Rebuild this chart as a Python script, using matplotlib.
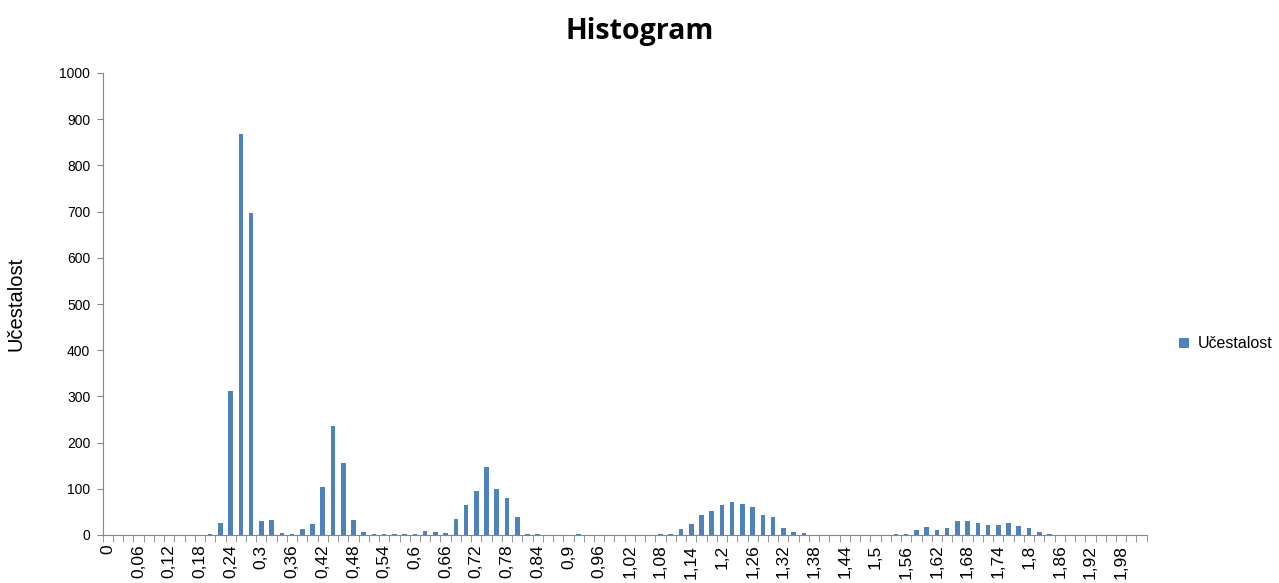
import numpy as np
import matplotlib
matplotlib.use("Agg")
import matplotlib.pyplot as plt

# bins 0 .. 2.02 step 0.02, counts
bins = [round(0.02 * i, 2) for i in range(102)]
counts = [
    0, 0, 0, 0, 0, 0, 0, 0, 0, 0,          # 0 - 0.18
    2, 27, 312, 868, 697, 30, 32, 4, 3, 12,  # 0.20 - 0.38
    24, 104, 235, 155, 33, 7, 2, 2, 3, 2,    # 0.40 - 0.58
    2, 9, 7, 5, 35, 64, 95, 147, 100, 80,    # 0.60 - 0.78
    38, 3, 2, 0, 0, 0, 2, 0, 0, 0,           # 0.80 - 0.98
    1, 0, 0, 1, 2, 2, 14, 24, 43, 51,        # 1.00 - 1.18
    66, 72, 68, 60, 44, 38, 15, 7, 5, 0,     # 1.20 - 1.38
    0, 0, 0, 0, 0, 0, 1, 2, 3, 11,           # 1.40 - 1.58
    17, 11, 15, 30, 30, 25, 22, 22, 27, 19,  # 1.60 - 1.78
    15, 7, 2, 0, 0, 0, 0, 0, 0, 0,           # 1.80 - 1.98
    0, 0,                                    # 2.00 - 2.02
]
series_name = "Učestalost"
title = "Histogram"


def fmt(v):
    return ("%g" % v).replace(".", ",")


plt.rcParams["font.family"] = ["Liberation Sans", "DejaVu Sans"]

fig = plt.figure(figsize=(12.79, 5.83), dpi=100)
ax = fig.add_axes([102.7 / 1279, 1 - 535 / 583, (1146.7 - 102.7) / 1279, (535 - 73) / 583])

x = np.arange(len(bins))
ax.bar(x, counts, width=0.45, color="#4F81BD", label=series_name)

ax.set_xlim(-0.5, len(bins) - 0.5)
ax.set_ylim(0, 1000)
ax.set_yticks(range(0, 1001, 100))
ax.tick_params(axis="y", labelsize=10, length=4, color="#868686", pad=5)

ax.set_xticks(x[::3])
ax.set_xticklabels([fmt(b) for b in bins[::3]], rotation=90, fontsize=12.5)
ax.set_xticks(np.arange(-0.5, len(bins)), minor=True)
ax.tick_params(axis="x", which="major", length=0, pad=7)
ax.tick_params(axis="x", which="minor", length=5, color="#868686")

for s in ["top", "right"]:
    ax.spines[s].set_visible(False)
for s in ["left", "bottom"]:
    ax.spines[s].set_color("#868686")

ax.set_ylabel(series_name, fontsize=14.5, labelpad=24)
fig.text(0.5, 1 - 31 / 583, title, ha="center", va="center",
         fontsize=20.5, fontweight="bold", family=["Open Sans", "DejaVu Sans"])

fig.legend(loc="center left", bbox_to_anchor=(1179 / 1279, 1 - 344 / 583),
           frameon=False, fontsize=11.5, handlelength=0.65, handleheight=0.65,
           handletextpad=0.5, borderaxespad=0, borderpad=0)

fig.savefig("out.png", dpi=100)
